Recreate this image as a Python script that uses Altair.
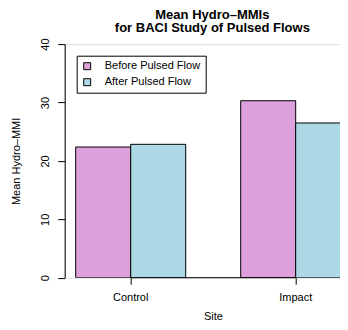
import altair as alt
import pandas as pd

sites = ["Control", "Impact"]
periods = ["Before Pulsed Flow", "After Pulsed Flow"]
before_vals = [22.38, 30.3]
after_vals = [22.84, 26.49]
colors = ["#DDA0DD", "#ADD8E6"]
y_ticks = [0, 10, 20, 30, 40]

rows = []
for i, s in enumerate(sites):
    rows.append({"Site": s, "Period": periods[0], "MMI": before_vals[i]})
    rows.append({"Site": s, "Period": periods[1], "MMI": after_vals[i]})
df = pd.DataFrame(rows)
axis_df = pd.DataFrame({"Site": [sites[0]], "SiteEnd": [sites[-1]], "MMI": [0]})

FONT = "Liberation Sans"

xscale = alt.Scale(domain=sites, range=[0, 297], paddingInner=1/3, paddingOuter=0.2/3)
yscale = alt.Scale(domain=[0, 40], nice=False, zero=False)

bars = alt.Chart(df).mark_bar(stroke="black", strokeWidth=1, clip=True).encode(
    x=alt.X("Site:N", scale=xscale,
            axis=alt.Axis(title="Site", labelAngle=0, domain=False, tickColor="black",
                          tickSize=6.5, labelPadding=16, labelBaseline="alphabetic",
                          labelFont=FONT, labelFontSize=11, labelColor="black",
                          titleFont=FONT, titleFontSize=11, titleFontWeight="normal",
                          titleColor="black", titleX=148.3, titleY=41.5,
                          titleBaseline="alphabetic", titleAlign="center")),
    xOffset=alt.XOffset("Period:N", sort=periods,
                        scale=alt.Scale(domain=periods, paddingInner=0, paddingOuter=0)),
    y=alt.Y("MMI:Q", scale=yscale,
            axis=alt.Axis(title="Mean Hydro–MMI", values=y_ticks, grid=False,
                          domainColor="black", tickColor="black", tickSize=7,
                          labelAngle=270, labelAlign="center", labelBaseline="alphabetic",
                          labelPadding=9, labelFont=FONT, labelFontSize=11,
                          labelColor="black",
                          titleFont=FONT, titleFontSize=11, titleFontWeight="normal",
                          titleColor="black", titleAngle=270, titleX=-48, titleY=116.8,
                          titleAlign="center", titleBaseline="middle")),
    fill=alt.Fill("Period:N", sort=periods,
                  scale=alt.Scale(domain=periods, range=colors),
                  legend=alt.Legend(title=None, orient="none", legendX=12, legendY=11.6,
                                    padding=5, strokeColor="black", fillColor="white",
                                    symbolType="square", symbolSize=49,
                                    symbolStrokeColor="black", symbolStrokeWidth=1,
                                    labelFont=FONT, labelFontSize=11, labelColor="black",
                                    labelOffset=12, rowPadding=4)),
)

base_line = alt.Chart(axis_df).mark_rule(color="black", strokeWidth=1).encode(
    x=alt.X("Site:N", scale=xscale, bandPosition=0.5),
    x2=alt.X2("SiteEnd", bandPosition=0.5),
    y=alt.Y("MMI:Q", scale=yscale),
)

chart = alt.layer(bars, base_line).properties(
    width=275.3,
    height=233.6,
    autosize=alt.AutoSizeParams(type="none"),
    padding={"left": 56.7, "top": 36.1, "right": 0, "bottom": 44.3},
    title=alt.TitleParams(
        text=["Mean Hydro–MMIs", "for BACI Study of Pulsed Flows"],
        font=FONT, fontSize=13, fontWeight="bold", color="black",
        anchor="middle", dx=10, lineHeight=13.4, offset=3,
    ),
).configure_view(stroke=None).configure(background="white")

chart.save("out.html", embed_options={"renderer": "svg", "actions": False})
